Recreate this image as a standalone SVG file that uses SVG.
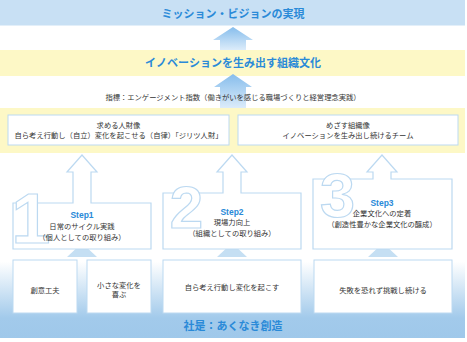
<svg xmlns="http://www.w3.org/2000/svg" width="467" height="342" viewBox="0 0 467 342">
<defs>
<linearGradient id="upArrow" x1="0" y1="0" x2="0" y2="1">
<stop offset="0" stop-color="#86bdec"/>
<stop offset="1" stop-color="#dcecfa"/>
</linearGradient>
<linearGradient id="baseGrad" x1="0" y1="0" x2="0" y2="1">
<stop offset="0.08" stop-color="#ffffff"/>
<stop offset="0.76" stop-color="#a2caeb"/>
<stop offset="1" stop-color="#9fc8ea"/>
</linearGradient>
</defs>
<style>
.jp{font-family:"Noto Sans CJK JP","Noto Sans",sans-serif;}
.title{font-size:11px;font-weight:bold;fill:#2a8ad8;text-anchor:middle;}
.body{font-size:7.3px;fill:#333333;text-anchor:middle;}
.step{font-size:8.5px;font-weight:bold;fill:#2a8ad8;text-anchor:middle;font-family:"Liberation Sans",sans-serif;}
.box{fill:#ffffff;stroke:#bcd9f1;stroke-width:1;}
.outline{fill:#ffffff;stroke:#bcd9f1;stroke-width:1.2;}
.digit{font-family:"Liberation Sans",sans-serif;font-weight:bold;fill:#ffffff;stroke:#bcd9f1;stroke-width:1.2;text-anchor:middle;}
.tri{fill:#c5dff3;}
</style>
<rect x="0" y="0" width="467" height="342" fill="#ffffff"/>

<g id="base">
<rect x="0" y="255" width="465" height="83" fill="url(#baseGrad)"/>
<text class="jp title" x="233" y="330" font-size="10.5">社是：あくなき創造</text>
</g>

<g id="mission">
<rect x="0" y="0" width="465" height="25.5" fill="#c8e0f4"/>
<text class="jp title" x="233" y="18">ミッション・ビジョンの実現</text>
</g>

<g id="culture">
<rect x="0" y="50" width="465" height="26" fill="#fdf8c6"/>
<text class="jp title" x="233" y="67">イノベーションを生み出す組織文化</text>
</g>

<g id="connectors">
<path d="M220,50 V40 H213 L233,27 L253,40 H246 V50 Z" fill="url(#upArrow)"/>
<path d="M220,108 V87 H214 L233,74 L252,87 H246 V108 Z" fill="url(#upArrow)"/>
<path class="tri" d="M67,257 L82,243 L97,257 Z"/>
<path class="tri" d="M217,257 L232,243 L247,257 Z"/>
<path class="tri" d="M368,257 L383,243 L398,257 Z"/>
</g>

<g id="indicator">
<text class="jp body" x="233" y="100" font-size="7.4">指標：エンゲージメント指数（働きがいを感じる職場づくりと経営理念実践）</text>
</g>

<g id="ideal">
<rect x="0" y="108" width="465" height="45" fill="#fdf8c6"/>
<rect class="box" x="8" y="115" width="221" height="30"/>
<text class="jp body" x="118.5" y="127.5">求める人財像</text>
<text class="jp body" x="118.5" y="137.5">自ら考え行動し（自立）変化を起こせる（自律）「ジリツ人財」</text>
<rect class="box" x="238" y="115" width="220" height="30"/>
<text class="jp body" x="348" y="127.5">めざす組織像</text>
<text class="jp body" x="348" y="137.5">イノベーションを生み出し続けるチーム</text>
</g>

<g id="step1">
<path class="outline" d="M13,203 H73 V172 H67 L82,155 L97,172 H91 V203 H151 V249 H13 Z"/>
<text class="digit" x="31" y="243" font-size="70">1</text>
<text class="step" x="82" y="218">Step1</text>
<text class="jp body" x="82" y="229">日常のサイクル実践</text>
<text class="jp body" x="82" y="239.5">（個人としての取り組み）</text>
</g>

<g id="step2">
<path class="outline" d="M163,193 H223 V172 H217 L232,155 L247,172 H241 V193 H301 V249 H163 Z"/>
<text class="digit" x="186.5" y="228" font-size="60">2</text>
<text class="step" x="232" y="215">Step2</text>
<text class="jp body" x="232" y="225">現場力向上</text>
<text class="jp body" x="232" y="235.5">（組織としての取り組み）</text>
</g>

<g id="step3">
<path class="outline" d="M313,179 H373 V172 H367 L382,155 L397,172 H391 V179 H452 V249 H313 Z"/>
<text class="digit" x="337.5" y="217" font-size="63">3</text>
<text class="step" x="382" y="206">Step3</text>
<text class="jp body" x="382" y="216">企業文化への定着</text>
<text class="jp body" x="382" y="226.5">（創造性豊かな企業文化の醸成）</text>
</g>

<g id="action1">
<rect class="box" x="13" y="260" width="64" height="53"/>
<text class="jp body" x="45" y="292.5" font-size="7.5">創意工夫</text>
</g>
<g id="action2">
<rect class="box" x="87" y="260" width="64" height="53"/>
<text class="jp body" x="119" y="287.5" font-size="7.5">小さな変化を</text>
<text class="jp body" x="119" y="297" font-size="7.5">喜ぶ</text>
</g>
<g id="action3">
<rect class="box" x="163" y="260" width="138" height="53"/>
<text class="jp body" x="232" y="289.5" font-size="7.5">自ら考え行動し変化を起こす</text>
</g>
<g id="action4">
<rect class="box" x="314" y="260" width="138" height="53"/>
<text class="jp body" x="383" y="292.5" font-size="7.5">失敗を恐れず挑戦し続ける</text>
</g>
</svg>
